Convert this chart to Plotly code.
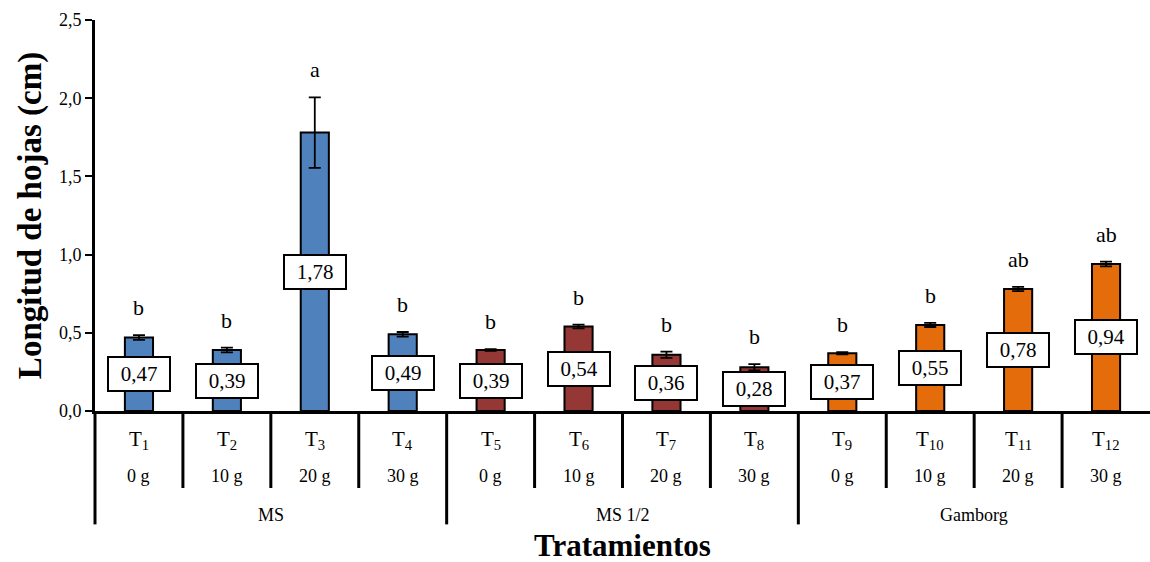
import plotly.graph_objects as go

# Leaf length by treatment
treatments = ["T<sub>1</sub>", "T<sub>2</sub>", "T<sub>3</sub>", "T<sub>4</sub>",
              "T<sub>5</sub>", "T<sub>6</sub>", "T<sub>7</sub>", "T<sub>8</sub>",
              "T<sub>9</sub>", "T<sub>10</sub>", "T<sub>11</sub>", "T<sub>12</sub>"]
doses = ["0 g", "10 g", "20 g", "30 g"] * 3
media = ["MS", "MS 1/2", "Gamborg"]
values = [0.47, 0.39, 1.78, 0.49, 0.39, 0.54, 0.36, 0.28, 0.37, 0.55, 0.78, 0.94]
errors = [0.015, 0.015, 0.225, 0.015, 0.005, 0.012, 0.02, 0.02, 0.007, 0.013, 0.013, 0.015]
letters = ["b", "b", "a", "b", "b", "b", "b", "b", "b", "b", "ab", "ab"]
media_colors = ["#4F81BD", "#953735", "#E46C0A"]

y_ticks = [0, 0.5, 1.0, 1.5, 2.0, 2.5]
y_tick_text = ["0,0", "0,5", "1,0", "1,5", "2,0", "2,5"]

FONT = "Liberation Serif, Times New Roman, serif"
n = len(values)
xs = list(range(n))
colors = [media_colors[i // 4] for i in xs]

fig = go.Figure()
fig.add_trace(go.Bar(
    x=xs, y=values, width=0.32,
    marker=dict(color=colors, line=dict(color="black", width=2)),
    error_y=dict(type="data", array=errors, visible=True,
                 color="black", thickness=1.8, width=6),
    hoverinfo="skip",
))

annotations = []
# value boxes at the middle of each bar
for i, v in enumerate(values):
    annotations.append(dict(
        x=i, y=v / 2, xref="x", yref="y", xanchor="center",
        text=f"{v:.2f}".replace(".", ","), showarrow=False,
        font=dict(family=FONT, size=21, color="black"),
        bgcolor="white", bordercolor="black", borderwidth=2, borderpad=4,
        width=52,
    ))
# significance letters above the error bars
for i, (v, e, s) in enumerate(zip(values, errors, letters)):
    annotations.append(dict(
        x=i, y=v + e, xref="x", yref="y", xanchor="center", yanchor="bottom",
        yshift=13, text=s, showarrow=False,
        font=dict(family=FONT, size=22, color="black"),
    ))
# category rows below the axis
for i in xs:
    xp = (i + 0.5) / n
    annotations.append(dict(
        x=xp, y=-0.075, xref="paper", yref="paper",
        xanchor="center", yanchor="middle",
        text=treatments[i], showarrow=False,
        font=dict(family=FONT, size=21, color="black"),
    ))
    annotations.append(dict(
        x=xp, y=-0.165, xref="paper", yref="paper",
        xanchor="center", yanchor="middle",
        text=doses[i], showarrow=False,
        font=dict(family=FONT, size=18, color="black"),
    ))
for g, name in enumerate(media):
    annotations.append(dict(
        x=(g * 4 + 2) / n, y=-0.265, xref="paper", yref="paper",
        xanchor="center", yanchor="middle",
        text=name, showarrow=False,
        font=dict(family=FONT, size=18, color="black"),
    ))
annotations.append(dict(
    x=0.5, y=-0.343, xref="paper", yref="paper",
    xanchor="center", yanchor="middle",
    text="<b>Tratamientos</b>", showarrow=False,
    font=dict(family=FONT, size=31, color="black"),
))

# divider lines between categories and groups
shapes = []
for k in range(n):
    bottom = -0.29 if k % 4 == 0 else -0.197
    shapes.append(dict(
        type="line", xref="paper", yref="paper",
        x0=k / n, x1=k / n, y0=0, y1=bottom,
        line=dict(color="black", width=3),
    ))

fig.update_layout(
    width=1150, height=562,
    margin=dict(l=95, r=0, t=20, b=151),
    paper_bgcolor="white", plot_bgcolor="white",
    showlegend=False,
    font=dict(family=FONT, color="black"),
    annotations=annotations,
    shapes=shapes,
    xaxis=dict(range=[-0.5, n - 0.5], showticklabels=False, ticks="",
               showgrid=False, zeroline=False,
               showline=True, linecolor="black", linewidth=3),
    yaxis=dict(range=[0, 2.5], tickvals=y_ticks, ticktext=y_tick_text,
               ticks="outside", ticklen=7, tickwidth=2, tickcolor="black",
               tickfont=dict(family=FONT, size=18, color="black"),
               showgrid=False, zeroline=False,
               showline=True, linecolor="black", linewidth=3,
               title=dict(text="<b>Longitud de hojas (cm)</b>",
                          font=dict(family=FONT, size=33, color="black"),
                          standoff=8)),
)

fig.write_html("out.html")
